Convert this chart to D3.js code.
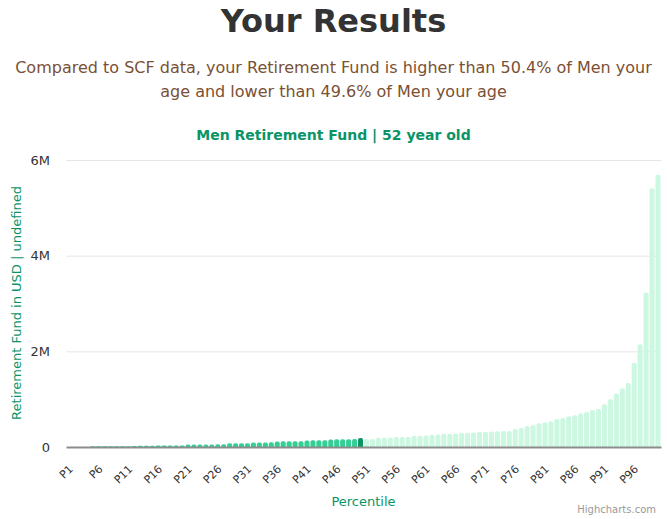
<!DOCTYPE html>
<html>
<head>
<meta charset="utf-8">
<script src="https://cdn.jsdelivr.net/npm/d3@7"></script>
<style>
  body { margin: 0; background: #fff; font-family: "DejaVu Sans", sans-serif; }
  svg text { font-family: "DejaVu Sans", sans-serif; }
</style>
</head>
<body>
<svg id="chart" width="667" height="519"></svg>
<script>
// percentile categories P1..P100
const percentiles = d3.range(1, 101).map(i => "P" + i);

// retirement fund per percentile, in USD
const fundValues = [
  0, 0, 0, 0, 14000, 15000, 15000, 16000, 17000, 17000,
  18000, 19000, 27000, 28000, 28000, 29000, 29000, 30000, 31000, 31000,
  50000, 51000, 52000, 53000, 54000, 55000, 56000, 76000, 77000, 78000,
  79000, 92000, 94000, 95000, 97000, 116000, 118000, 119000, 121000, 122000,
  138000, 140000, 141000, 143000, 158000, 160000, 161000, 163000, 165000, 188000,
  167000, 168000, 193000, 195000, 196000, 207000, 209000, 211000, 235000, 237000,
  239000, 256000, 259000, 277000, 279000, 281000, 298000, 300000, 302000, 318000,
  320000, 322000, 330000, 333000, 336000, 376000, 397000, 439000, 453000, 495000,
  516000, 537000, 585000, 606000, 641000, 662000, 704000, 731000, 773000, 794000,
  892000, 997000, 1120000, 1230000, 1340000, 1760000, 2150000, 3230000, 5410000, 5690000
];

const userPercentile = "P50";
const yTicks = [0, 2000000, 4000000, 6000000];
const yTickLabels = ["0", "2M", "4M", "6M"];
const xLabelCats = percentiles.filter((p, i) => i % 5 === 0);

const pageTitle = "Your Results";
const subtitleLines = [
  "Compared to SCF data, your Retirement Fund is higher than 50.4% of Men your",
  "age and lower than 49.6% of Men your age"
];
const chartTitle = "Men Retirement Fund | 52 year old";

const margin = {top: 160, right: 6, bottom: 72, left: 66};
const W = 667, H = 519;
const width = W - margin.left - margin.right,
      height = H - margin.top - margin.bottom;

const svg = d3.select("#chart");

svg.append("text")
  .attr("x", W / 2).attr("y", 32)
  .attr("text-anchor", "middle")
  .style("font-size", "32px").style("font-weight", "bold")
  .attr("fill", "#333333")
  .text(pageTitle);

svg.selectAll(".sub")
  .data(subtitleLines)
  .enter().append("text")
  .attr("class", "sub")
  .attr("x", W / 2)
  .attr("y", (d, i) => 73 + i * 24)
  .attr("text-anchor", "middle")
  .style("font-size", "16px")
  .attr("fill", "#7b5034")
  .text(d => d);

svg.append("text")
  .attr("x", W / 2).attr("y", 140)
  .attr("text-anchor", "middle")
  .style("font-size", "14px").style("font-weight", "bold")
  .attr("fill", "#0a9466")
  .text(chartTitle);

const g = svg.append("g")
  .attr("transform", "translate(" + margin.left + "," + margin.top + ")");

const x = d3.scaleBand()
  .domain(percentiles)
  .range([0, width])
  .paddingInner(0.15)
  .paddingOuter(0.08);

const y = d3.scaleLinear()
  .domain([0, 6000000])
  .range([height, 0]);

// gridlines
g.selectAll(".grid")
  .data(yTicks.slice(1))
  .enter().append("line")
  .attr("x1", 0).attr("x2", width)
  .attr("y1", d => y(d) + 0.5).attr("y2", d => y(d) + 0.5)
  .attr("stroke", "#e6e6e6");

// y axis labels
const yAxis = d3.axisLeft(y)
  .tickValues(yTicks)
  .tickFormat((d, i) => yTickLabels[i])
  .tickSize(0)
  .tickPadding(16);
g.append("g").call(yAxis)
  .call(a => a.select(".domain").remove())
  .selectAll("text")
  .style("font-size", "13px")
  .attr("fill", "#333333");

// bars with rounded tops
const bars = percentiles.map((p, i) => ({p: p, v: fundValues[i]}));
function barPath(d) {
  const x0 = x(d.p), w = x.bandwidth(), y0 = y(d.v), b = y(0);
  const h = b - y0;
  if (h <= 0) return "";
  const r = Math.min(2, h, w / 2);
  return "M" + x0 + "," + b +
    "V" + (y0 + r) +
    "Q" + x0 + "," + y0 + " " + (x0 + r) + "," + y0 +
    "H" + (x0 + w - r) +
    "Q" + (x0 + w) + "," + y0 + " " + (x0 + w) + "," + (y0 + r) +
    "V" + b + "Z";
}
const userIdx = percentiles.indexOf(userPercentile);
g.selectAll(".bar")
  .data(bars)
  .enter().append("path")
  .attr("class", "bar")
  .attr("d", barPath)
  .attr("fill", (d, i) => i === userIdx ? "#0c9464" : (i < userIdx ? "#33cf95" : "#ccf7e1"));

// x axis
const xAxis = d3.axisBottom(x)
  .tickValues(xLabelCats)
  .tickSize(0);
const xa = g.append("g")
  .attr("transform", "translate(0," + height + ")")
  .call(xAxis);
xa.select(".domain").attr("stroke", "#8c8c8c").attr("stroke-width", 2);
xa.selectAll("text")
  .style("font-size", "11px")
  .attr("fill", "#333333")
  .attr("text-anchor", "end")
  .attr("y", 0)
  .attr("dy", "0.35em")
  .attr("transform", "translate(2,20) rotate(-45)");

// axis titles
svg.append("text")
  .attr("x", margin.left + width / 2).attr("y", 506)
  .attr("text-anchor", "middle")
  .style("font-size", "13px")
  .attr("fill", "#0a9466")
  .text("Percentile");

svg.append("text")
  .attr("transform", "translate(21,303) rotate(-90)")
  .attr("text-anchor", "middle")
  .style("font-size", "13px")
  .attr("fill", "#0a9466")
  .text("Retirement Fund in USD | undefined");

svg.append("text")
  .attr("x", 656).attr("y", 513)
  .attr("text-anchor", "end")
  .style("font-size", "10px")
  .attr("fill", "#999999")
  .text("Highcharts.com");
</script>
</body>
</html>
